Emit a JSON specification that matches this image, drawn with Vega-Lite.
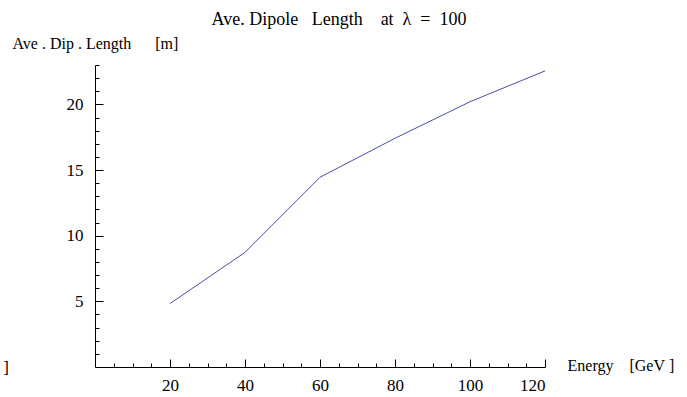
{
  "$schema": "https://vega.github.io/schema/vega-lite/v6.json",
  "width": 450,
  "height": 302,
  "autosize": {"type": "none"},
  "padding": {"left": 95, "top": 65, "right": 142, "bottom": 30},
  "background": "white",
  "config": {
    "view": {"stroke": null},
    "font": "Liberation Serif",
    "axis": {"labelFont": "Liberation Serif", "titleFont": "Liberation Serif", "grid": false, "domainColor": "black", "tickColor": "black", "labelColor": "black", "titleColor": "black", "titleFontWeight": "normal", "labelFontSize": 17, "titleFontSize": 16}
  },
  "title": {"text": "Ave.\u00a0Dipole\u00a0\u00a0\u00a0Length\u00a0\u00a0\u00a0\u00a0at\u00a0\u00a0λ\u00a0\u00a0=\u00a0\u00a0100", "font": "Liberation Serif", "fontSize": 18, "fontWeight": "normal", "color": "black", "anchor": "middle", "dx": 19, "frame": "group", "offset": 6},
  "data": {"values": [
    {"Energy": 20, "Length": 4.83},
    {"Energy": 40, "Length": 8.73},
    {"Energy": 60, "Length": 14.45},
    {"Energy": 80, "Length": 17.42},
    {"Energy": 100, "Length": 20.2},
    {"Energy": 120, "Length": 22.55}
  ]},
  "resolve": {"axis": {"x": "independent", "y": "independent"}},
  "layer": [
    {
      "mark": {"type": "line", "color": "#4d4dab", "strokeWidth": 1},
      "encoding": {
        "x": {"field": "Energy", "type": "quantitative", "scale": {"domain": [0, 120], "nice": false},
          "axis": {"orient": "bottom", "values": [20, 40, 60, 80, 100, 120], "tickSize": -8, "labelPadding": 26, "labelBaseline": "middle", "domainWidth": 1,
            "title": "Energy\u00a0\u00a0\u00a0\u00a0[GeV\u00a0]", "titleAngle": 0, "titleX": 472, "titleY": -2, "titleAlign": "left", "titleBaseline": "middle"}},
        "y": {"field": "Length", "type": "quantitative", "scale": {"domain": [0, 23], "nice": false},
          "axis": {"orient": "left", "values": [5, 10, 15, 20], "tickSize": -8, "labelPadding": 20, "domainWidth": 1,
            "title": "Ave\u00a0.\u00a0Dip\u00a0.\u00a0Length\u00a0\u00a0\u00a0\u00a0\u00a0\u00a0[m]", "titleAngle": 0, "titleX": -83, "titleY": -22, "titleAlign": "left", "titleBaseline": "middle"}}
      }
    },
    {
      "mark": {"type": "line", "opacity": 0},
      "encoding": {
        "x": {"field": "Energy", "type": "quantitative",
          "axis": {"orient": "bottom", "values": [5, 10, 15, 25, 30, 35, 45, 50, 55, 65, 70, 75, 85, 90, 95, 105, 110, 115], "tickSize": -4, "labels": false, "domain": false, "title": null}},
        "y": {"field": "Length", "type": "quantitative",
          "axis": {"orient": "left", "values": [1, 2, 3, 4, 6, 7, 8, 9, 11, 12, 13, 14, 16, 17, 18, 19, 21, 22, 23], "tickSize": -4, "labels": false, "domain": false, "title": null}}
      }
    },
    {
      "data": {"values": [{"Energy": -24.5, "Length": -0.1, "label": "]"}]},
      "mark": {"type": "text", "font": "Liberation Serif", "fontSize": 17, "align": "left", "baseline": "middle", "clip": false, "color": "black"},
      "encoding": {
        "x": {"field": "Energy", "type": "quantitative", "axis": null},
        "y": {"field": "Length", "type": "quantitative", "axis": null},
        "text": {"field": "label"}
      }
    }
  ]
}
